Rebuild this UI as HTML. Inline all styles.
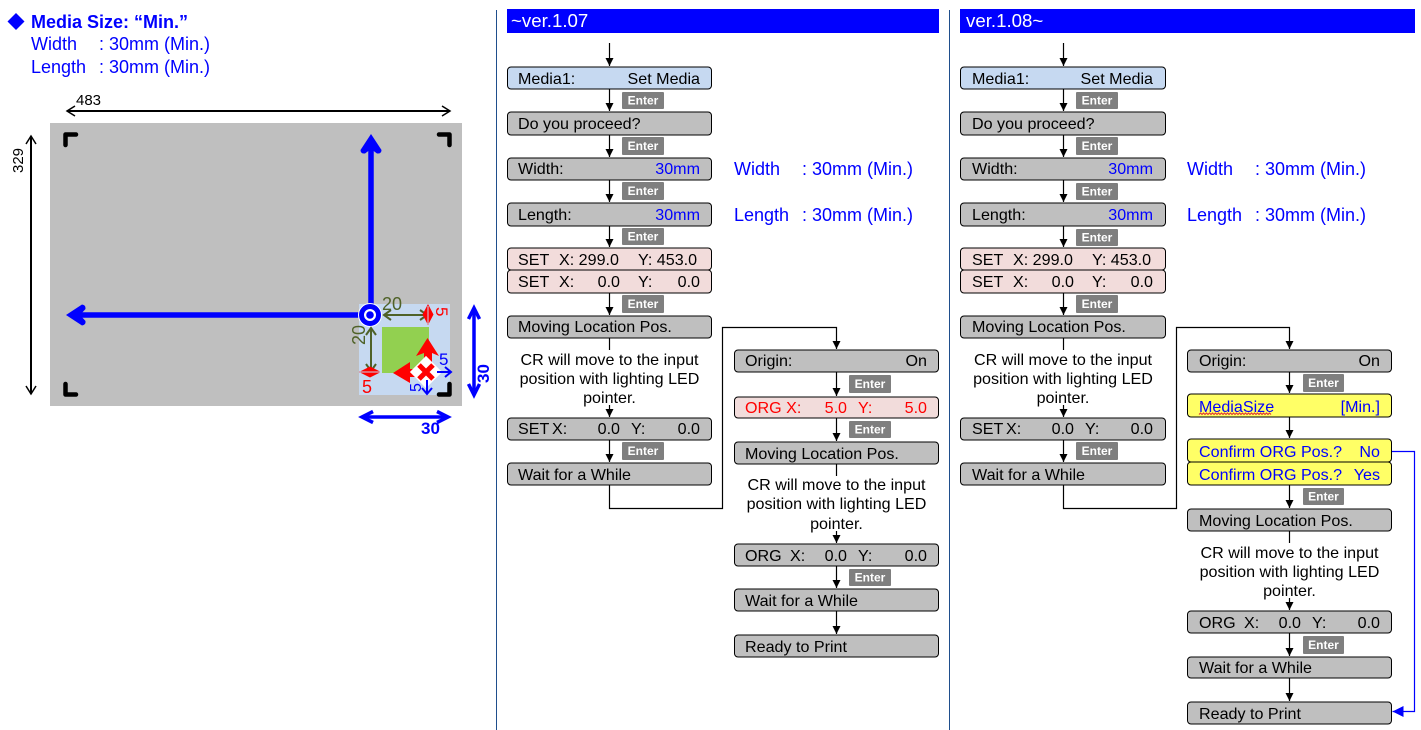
<!DOCTYPE html>
<html><head><meta charset="utf-8"><style>
html,body{margin:0;padding:0;background:#fff}
svg{display:block}
text{font-family:"Liberation Sans",sans-serif;font-size:16.1px;fill:#000}
.b{fill:#bfbfbf;stroke:#000;stroke-width:1}
.l{fill:#c6d9f1;stroke:#000;stroke-width:1}
.p{fill:#f2dcdb;stroke:#000;stroke-width:1}
.y{fill:#ffff66;stroke:#000;stroke-width:1}
.e{fill:#7f7f7f}
.et{fill:#fff;font-size:12px;font-weight:bold;text-anchor:middle}
.r{text-anchor:end}
.m{text-anchor:middle}
.bl{fill:#0000ff}
.rd{fill:#ff0000}
.c{stroke:#000;stroke-width:1.2;fill:none}
.s{font-size:18px}
</style></head><body>
<svg width="1421" height="730" viewBox="0 0 1421 730" xmlns="http://www.w3.org/2000/svg">
<defs>
<marker id="a" markerUnits="userSpaceOnUse" markerWidth="9" markerHeight="9" refX="8" refY="4" orient="auto"><path d="M0 0L8 4L0 8Z" fill="#000"/></marker>
<marker id="ab" markerUnits="userSpaceOnUse" markerWidth="12" markerHeight="12" refX="11" refY="5.500" orient="auto"><path d="M0 0L11 5.500L0 11Z" fill="#00f"/></marker>
</defs>

<!-- left header -->
<path d="M16 13L24.500 21.500L16 30L7.500 21.500Z" fill="#00f"/>
<text x="31" y="28" class="bl s" style="font-weight:bold">Media Size: “Min.”</text>
<text x="31" y="50" class="bl s">Width</text><text x="99" y="50" class="bl s">: 30mm (Min.)</text>
<text x="31" y="73" class="bl s">Length</text><text x="99" y="73" class="bl s">: 30mm (Min.)</text>

<!-- media -->
<rect x="50" y="123" width="412" height="283" fill="#bfbfbf"/>
<g fill="none" stroke="#000" stroke-width="4.500" stroke-linecap="round" stroke-linejoin="round">
<path d="M65.500 145V134.500H76"/><path d="M439 134.500H449.500V145"/><path d="M65.500 384V394.500H76"/>
</g>

<path d="M68 111H450" stroke="#000" stroke-width="2" fill="none"/>
<path d="M75 106L67 111L75 116M442 106L450 111L442 116" stroke="#000" stroke-width="1.500" fill="none"/>
<text x="76" y="105" style="font-size:15px">483</text>
<path d="M31 136V394" stroke="#000" stroke-width="2" fill="none"/>
<path d="M26 144L31 136L36 144M26 386L31 394L36 386" stroke="#000" stroke-width="1.500" fill="none"/>
<text transform="translate(23,173) rotate(-90)" style="font-size:15px">329</text>

<rect x="359" y="304" width="91" height="91" fill="#c6d9f1"/>
<rect x="382" y="327" width="47" height="46" fill="#92d050"/>
<path d="M439 394.500H449.500V384" fill="none" stroke="#000" stroke-width="4.500" stroke-linecap="round" stroke-linejoin="round"/>

<!-- blue axes -->
<path d="M371 145V304" stroke="#00f" stroke-width="5.500"/>
<path d="M371 134L381.500 150Q381.500 154 377 153.500L371 149L365 153.500Q360.500 154 360.500 150Z" fill="#00f"/>
<path d="M76 315H360" stroke="#00f" stroke-width="5.500"/>
<path d="M66 315L82 304.500Q86 305 85.500 309L80 315L85.500 321Q86 325 82 325.500Z" fill="#00f"/>

<!-- circle -->
<circle cx="370" cy="315" r="12" fill="#fff"/>
<circle cx="370" cy="315" r="8.500" fill="#fff" stroke="#00f" stroke-width="5"/>
<circle cx="370" cy="315" r="3.800" fill="#00f"/>

<!-- olive dims -->
<g stroke="#4f6228" stroke-width="2" fill="none">
<path d="M384 315H427M391 310L384 315L391 320M420 310L427 315L420 320"/>
<path d="M371 328V371M366 335L371 328L376 335M366 364L371 371L376 364"/>
</g>
<text x="382" y="310" style="font-size:18px;fill:#4f6228">20</text>
<text transform="translate(365,345) rotate(-90)" style="font-size:18px;fill:#4f6228">20</text>

<!-- red dims -->
<path d="M428 304L433.500 314.500L428 325L422.500 314.500Z" fill="#f00"/>
<path d="M359 372L370 366.500L381 372L370 377.500Z" fill="#f00"/>
<path d="M428 306V324M360 372H381" stroke="#c6d9f1" stroke-width="1"/>
<text transform="translate(436,307) rotate(90)" class="rd" style="font-size:17px">5</text>
<text x="362" y="393" class="rd" style="font-size:18px">5</text>

<!-- red arrows & X -->
<path d="M427.500 338L439 356L432 353V372H424V353L416 356Z" fill="#f00"/>
<path d="M393 373L410 362L410 369H428V377H410L410 383Z" fill="#f00"/>
<path d="M426 358L440 372L426 386L412 372Z" fill="#fff" stroke="#fff" stroke-width="3"/>
<path d="M419 365L433 379M433 365L419 379" stroke="#f00" stroke-width="5"/>

<!-- blue small dims -->
<g stroke="#00f" stroke-width="2" fill="none">
<path d="M437 372H451M445 367L451 372L445 377"/>
<path d="M427 380V394M422 388L427 394L432 388"/>
</g>
<text x="439" y="365" class="bl" style="font-size:17px">5</text>
<text transform="translate(421,392) rotate(-90)" class="bl" style="font-size:16px">5</text>

<!-- right/bottom 30 -->
<path d="M474 308V392" stroke="#00f" stroke-width="3.500"/>
<path d="M468.500 319L474 308L479.500 319M468.500 384L474 395L479.500 384" stroke="#00f" stroke-width="3.500" fill="none"/>
<path d="M363 417H447" stroke="#00f" stroke-width="3.500"/>
<path d="M373 411.500L362 417L373 422.500M437 411.500L448 417L437 422.500" stroke="#00f" stroke-width="3.500" fill="none"/>
<text x="421" y="434" class="bl" style="font-size:17px;font-weight:bold">30</text>
<text transform="translate(489,383) rotate(-90)" class="bl" style="font-size:17px;font-weight:bold">30</text>

<!-- dividers -->
<path d="M496.500 10V730M949.500 10V730" stroke="#1f4e8c" stroke-width="1"/>
<rect x="507" y="9" width="432" height="24" fill="#0000ff"/>
<rect x="960" y="9" width="455" height="24" fill="#0000ff"/>
<text x="511" y="27" style="fill:#fff;font-size:18.670px">~ver.1.07</text>
<text x="966" y="27" style="fill:#fff;font-size:18.670px">ver.1.08~</text>

<!-- column 1 connectors -->
<g class="c">
<path d="M609.500 43V66" marker-end="url(#a)"/><path d="M609.500 89V111" marker-end="url(#a)"/><path d="M609.500 135V157" marker-end="url(#a)"/><path d="M609.500 180V202" marker-end="url(#a)"/><path d="M609.500 226V247" marker-end="url(#a)"/><path d="M609.500 293V315" marker-end="url(#a)"/><path d="M609.500 338V350"/><path d="M609.500 405V417" marker-end="url(#a)"/><path d="M609.500 440V462" marker-end="url(#a)"/>
<path d="M609.500 485V508.500H722.500V327.500H836.500V349" marker-end="url(#a)"/>
<path d="M836.500 372V396" marker-end="url(#a)"/><path d="M836.500 418V441" marker-end="url(#a)"/><path d="M836.500 464V476"/><path d="M836.500 531V543" marker-end="url(#a)"/><path d="M836.500 566V588" marker-end="url(#a)"/><path d="M836.500 611V634" marker-end="url(#a)"/>
</g>
<!-- column 3 connectors -->
<g class="c">
<path d="M1063.500 43V66" marker-end="url(#a)"/><path d="M1063.500 89V111" marker-end="url(#a)"/><path d="M1063.500 135V157" marker-end="url(#a)"/><path d="M1063.500 180V202" marker-end="url(#a)"/><path d="M1063.500 226V247" marker-end="url(#a)"/><path d="M1063.500 293V315" marker-end="url(#a)"/><path d="M1063.500 338V350"/><path d="M1063.500 405V417" marker-end="url(#a)"/><path d="M1063.500 440V462" marker-end="url(#a)"/>
<path d="M1063.500 485V508.500H1176.500V327.500H1289.500V349" marker-end="url(#a)"/>
<path d="M1289.500 372V393" marker-end="url(#a)"/><path d="M1289.500 417V438" marker-end="url(#a)"/><path d="M1289.500 485V508" marker-end="url(#a)"/><path d="M1289.500 531V543"/><path d="M1289.500 598V610" marker-end="url(#a)"/><path d="M1289.500 633V656" marker-end="url(#a)"/><path d="M1289.500 678V701" marker-end="url(#a)"/>
</g>
<path d="M1392 451.500H1414.500V711.500H1392.500" fill="none" stroke="#00f" stroke-width="1.200" marker-end="url(#ab)"/>

<!-- column 1 boxes -->
<rect x="507.500" y="67" width="204" height="22" rx="3.500" class="l"/><text x="518" y="84">Media1:</text><text x="700" y="84" class="r">Set Media</text>
<rect x="507.500" y="112" width="204" height="23" rx="3.500" class="b"/><text x="518" y="129">Do you proceed?</text>
<rect x="507.500" y="158" width="204" height="22" rx="3.500" class="b"/><text x="518" y="174">Width:</text><text x="700" y="174" class="r" style="fill:#00f">30mm</text>
<rect x="507.500" y="203" width="204" height="23" rx="3.500" class="b"/><text x="518" y="220">Length:</text><text x="700" y="220" class="r" style="fill:#00f">30mm</text>
<rect x="507.500" y="248" width="204" height="22" rx="3.500" class="p"/><text x="518" y="265">SET</text><text x="559" y="265">X: 299.0</text><text x="638" y="265">Y: 453.0</text>
<rect x="507.500" y="270" width="204" height="23" rx="3.500" class="p"/><text x="518" y="287">SET</text><text x="559" y="287">X:</text><text x="620" y="287" class="r">0.0</text><text x="638" y="287">Y:</text><text x="700" y="287" class="r">0.0</text>
<rect x="507.500" y="316" width="204" height="22" rx="3.500" class="b"/><text x="518" y="332">Moving Location Pos.</text>
<text x="609.500" y="365" class="m">CR will move to the input</text><text x="609.500" y="384" class="m">position with lighting LED</text><text x="609.500" y="403" class="m">pointer.</text>
<rect x="507.500" y="418" width="204" height="22" rx="3.500" class="b"/><text x="518" y="434">SET</text><text x="552" y="434">X:</text><text x="620" y="434" class="r">0.0</text><text x="631" y="434">Y:</text><text x="700" y="434" class="r">0.0</text>
<rect x="507.500" y="463" width="204" height="22" rx="3.500" class="b"/><text x="518" y="480">Wait for a While</text>

<!-- column 2 boxes -->
<rect x="734.500" y="350" width="204" height="22" rx="3.500" class="b"/><text x="745" y="366">Origin:</text><text x="927" y="366" class="r">On</text>
<rect x="734.500" y="397" width="204" height="21" rx="3.500" class="p"/><text x="745" y="413" class="rd">ORG X:</text><text x="847" y="413" class="rd r">5.0</text><text x="858" y="413" class="rd">Y:</text><text x="927" y="413" class="rd r">5.0</text>
<rect x="734.500" y="442" width="204" height="22" rx="3.500" class="b"/><text x="745" y="459">Moving Location Pos.</text>
<text x="836.500" y="490" class="m">CR will move to the input</text><text x="836.500" y="509" class="m">position with lighting LED</text><text x="836.500" y="529" class="m">pointer.</text>
<rect x="734.500" y="544" width="204" height="22" rx="3.500" class="b"/><text x="745" y="561">ORG</text><text x="790" y="561">X:</text><text x="847" y="561" class="r">0.0</text><text x="858" y="561">Y:</text><text x="927" y="561" class="r">0.0</text>
<rect x="734.500" y="589" width="204" height="22" rx="3.500" class="b"/><text x="745" y="606">Wait for a While</text>
<rect x="734.500" y="635" width="204" height="22" rx="3.500" class="b"/><text x="745" y="652">Ready to Print</text>

<!-- column 3 boxes -->
<rect x="960.500" y="67" width="205" height="22" rx="3.500" class="l"/><text x="972" y="84">Media1:</text><text x="1153" y="84" class="r">Set Media</text>
<rect x="960.500" y="112" width="205" height="23" rx="3.500" class="b"/><text x="972" y="129">Do you proceed?</text>
<rect x="960.500" y="158" width="205" height="22" rx="3.500" class="b"/><text x="972" y="174">Width:</text><text x="1153" y="174" class="r" style="fill:#00f">30mm</text>
<rect x="960.500" y="203" width="205" height="23" rx="3.500" class="b"/><text x="972" y="220">Length:</text><text x="1153" y="220" class="r" style="fill:#00f">30mm</text>
<rect x="960.500" y="248" width="205" height="22" rx="3.500" class="p"/><text x="972" y="265">SET</text><text x="1013" y="265">X: 299.0</text><text x="1092" y="265">Y: 453.0</text>
<rect x="960.500" y="270" width="205" height="23" rx="3.500" class="p"/><text x="972" y="287">SET</text><text x="1013" y="287">X:</text><text x="1074" y="287" class="r">0.0</text><text x="1092" y="287">Y:</text><text x="1153" y="287" class="r">0.0</text>
<rect x="960.500" y="316" width="205" height="22" rx="3.500" class="b"/><text x="972" y="332">Moving Location Pos.</text>
<text x="1063" y="365" class="m">CR will move to the input</text><text x="1063" y="384" class="m">position with lighting LED</text><text x="1063" y="403" class="m">pointer.</text>
<rect x="960.500" y="418" width="205" height="22" rx="3.500" class="b"/><text x="972" y="434">SET</text><text x="1006" y="434">X:</text><text x="1074" y="434" class="r">0.0</text><text x="1085" y="434">Y:</text><text x="1153" y="434" class="r">0.0</text>
<rect x="960.500" y="463" width="205" height="22" rx="3.500" class="b"/><text x="972" y="480">Wait for a While</text>

<!-- column 4 boxes -->
<rect x="1187.500" y="350" width="204" height="22" rx="3.500" class="b"/><text x="1199" y="366">Origin:</text><text x="1380" y="366" class="r">On</text>
<rect x="1187.500" y="394" width="204" height="23" rx="3.500" class="y"/><text x="1199" y="412" class="bl">MediaSize</text><text x="1380" y="412" class="bl r">[Min.]</text>
<path d="M1199 414.500l1.500 -1.500l1.500 1.500l1.500 -1.500l1.500 1.500l1.500 -1.500l1.500 1.500l1.500 -1.500l1.500 1.500l1.500 -1.500l1.500 1.500l1.500 -1.500l1.500 1.500l1.500 -1.500l1.500 1.500l1.500 -1.500l1.500 1.500l1.500 -1.500l1.500 1.500l1.500 -1.500l1.500 1.500l1.500 -1.500l1.500 1.500l1.500 -1.500l1.500 1.500l1.500 -1.500l1.500 1.500l1.500 -1.500l1.500 1.500l1.500 -1.500l1.500 1.500l1.500 -1.500l1.500 1.500l1.500 -1.500l1.500 1.500l1.500 -1.500l1.500 1.500l1.500 -1.500l1.500 1.500l1.500 -1.500l1.500 1.500l1.500 -1.500l1.500 1.500l1.500 -1.500l1.500 1.500l1.500 -1.500l1.500 1.500l1.500 -1.500l1.500 1.500" fill="none" stroke="#e03030" stroke-width="1"/>
<rect x="1187.500" y="439" width="204" height="23" rx="3.500" class="y"/><text x="1199" y="457" class="bl">Confirm ORG Pos.?</text><text x="1380" y="457" class="bl r">No</text>
<rect x="1187.500" y="462" width="204" height="23" rx="3.500" class="y"/><text x="1199" y="480" class="bl">Confirm ORG Pos.?</text><text x="1380" y="480" class="bl r">Yes</text>
<rect x="1187.500" y="509" width="204" height="22" rx="3.500" class="b"/><text x="1199" y="526">Moving Location Pos.</text>
<text x="1289.500" y="558" class="m">CR will move to the input</text><text x="1289.500" y="577" class="m">position with lighting LED</text><text x="1289.500" y="596" class="m">pointer.</text>
<rect x="1187.500" y="611" width="204" height="22" rx="3.500" class="b"/><text x="1199" y="628">ORG</text><text x="1244" y="628">X:</text><text x="1301" y="628" class="r">0.0</text><text x="1312" y="628">Y:</text><text x="1380" y="628" class="r">0.0</text>
<rect x="1187.500" y="657" width="204" height="21" rx="3.500" class="b"/><text x="1199" y="673">Wait for a While</text>
<rect x="1187.500" y="702" width="204" height="22" rx="3.500" class="b"/><text x="1199" y="719">Ready to Print</text>

<!-- side labels -->
<text x="734" y="175" class="bl s">Width</text><text x="802" y="175" class="bl s">: 30mm (Min.)</text>
<text x="734" y="221" class="bl s">Length</text><text x="802" y="221" class="bl s">: 30mm (Min.)</text>
<text x="1187" y="175" class="bl s">Width</text><text x="1255" y="175" class="bl s">: 30mm (Min.)</text>
<text x="1187" y="221" class="bl s">Length</text><text x="1255" y="221" class="bl s">: 30mm (Min.)</text>

<!-- Enter badges col1 -->
<rect x="622" y="92" width="42" height="17" rx="1" class="e"/><text x="643" y="104.500" class="et">Enter</text>
<rect x="622" y="137" width="42" height="18" rx="1" class="e"/><text x="643" y="150" class="et">Enter</text>
<rect x="622" y="182" width="42" height="18" rx="1" class="e"/><text x="643" y="195" class="et">Enter</text>
<rect x="622" y="228" width="42" height="17" rx="1" class="e"/><text x="643" y="240.500" class="et">Enter</text>
<rect x="622" y="295" width="42" height="18" rx="1" class="e"/><text x="643" y="308" class="et">Enter</text>
<rect x="622" y="442" width="42" height="18" rx="1" class="e"/><text x="643" y="455" class="et">Enter</text>
<!-- col2 -->
<rect x="849" y="375" width="42" height="18" rx="1" class="e"/><text x="870" y="388" class="et">Enter</text>
<rect x="849" y="421" width="42" height="17" rx="1" class="e"/><text x="870" y="433.500" class="et">Enter</text>
<rect x="849" y="569" width="42" height="17" rx="1" class="e"/><text x="870" y="581.500" class="et">Enter</text>
<!-- col3 -->
<rect x="1076" y="92" width="42" height="17" rx="1" class="e"/><text x="1097" y="104.500" class="et">Enter</text>
<rect x="1076" y="137" width="42" height="18" rx="1" class="e"/><text x="1097" y="150" class="et">Enter</text>
<rect x="1076" y="183" width="42" height="17" rx="1" class="e"/><text x="1097" y="195.500" class="et">Enter</text>
<rect x="1076" y="229" width="42" height="17" rx="1" class="e"/><text x="1097" y="241.500" class="et">Enter</text>
<rect x="1076" y="295" width="42" height="18" rx="1" class="e"/><text x="1097" y="308" class="et">Enter</text>
<rect x="1076" y="442" width="42" height="18" rx="1" class="e"/><text x="1097" y="455" class="et">Enter</text>
<!-- col4 -->
<rect x="1303" y="374" width="41" height="18" rx="1" class="e"/><text x="1323.500" y="387" class="et">Enter</text>
<rect x="1303" y="488" width="41" height="17" rx="1" class="e"/><text x="1323.500" y="500.500" class="et">Enter</text>
<rect x="1303" y="636" width="41" height="18" rx="1" class="e"/><text x="1323.500" y="649" class="et">Enter</text>
</svg>
</body></html>
